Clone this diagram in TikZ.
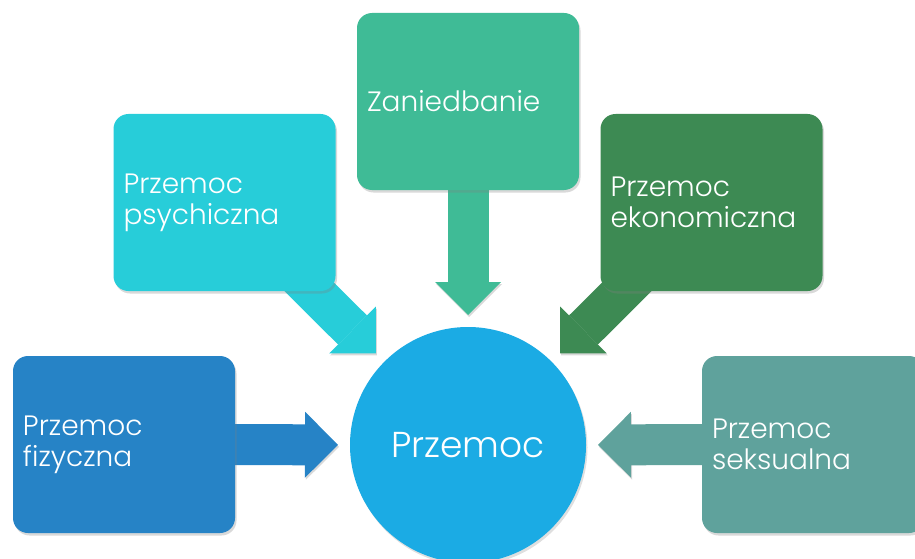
\documentclass[tikz,border=0pt]{standalone}
\usepackage{fontspec}
\setmainfont{Poppins Light}
\usetikzlibrary{arrows.meta,shadows,backgrounds}
\definecolor{fizcol}{HTML}{2683C6}
\definecolor{psycol}{HTML}{27CDD9}
\definecolor{zancol}{HTML}{3FBB96}
\definecolor{ekocol}{HTML}{3D8A53}
\definecolor{sekcol}{HTML}{5FA29C}
\definecolor{przcol}{HTML}{1BABE4}
\begin{document}
\begin{tikzpicture}[x=1pt,y=-1pt,
		box/.style={rectangle,rounded corners=15pt,minimum width=222pt,minimum height=177pt,
			text width=202pt,inner xsep=10pt,inner ysep=0pt,outer sep=0pt,align=left,text=white,
			font=\fontsize{28}{31}\selectfont,
			drop shadow={shadow xshift=1.5pt,shadow yshift=-2.5pt,opacity=0.3}},
		blockarrow/.style={line width=41pt,-{Triangle[length=33pt,width=66pt,line width=0pt]},
			shorten >=12pt,
			preaction={draw=black,opacity=0.15,transform canvas={shift={(1pt,-2pt)}}}}]
			\useasboundingbox (0,0) rectangle (915,559);
			\node[box,fill=fizcol] (fiz) at (124,444.5) {Przemoc\\fizyczna};
			\node[box,fill=psycol] (psy) at (224.5,202.5) {Przemoc\\psychiczna};
			\node[box,fill=zancol] (zan) at (468,101.5) {Zaniedbanie};
			\node[box,fill=ekocol] (eko) at (711.5,202.5) {Przemoc\\ekonomiczna};
			\node[box,fill=sekcol] (sek) at (813,444.5) {Przemoc\\seksualna};
			\node[circle,minimum size=236pt,inner sep=0pt,outer sep=0pt,fill=przcol,text=white,
				font=\fontsize{36}{40}\selectfont,
				drop shadow={shadow xshift=1.5pt,shadow yshift=-2.5pt,opacity=0.25}] (prz) at (468,445) {Przemoc};
			\begin{scope}[on background layer]
				\draw[blockarrow,fizcol] (fiz.center) -- (prz);
				\draw[blockarrow,psycol] (psy.center) -- (prz);
				\draw[blockarrow,zancol] (zan.center) -- (prz);
				\draw[blockarrow,ekocol] (eko.center) -- (prz);
				\draw[blockarrow,sekcol] (sek.center) -- (prz);
			\end{scope}
		\end{tikzpicture}
\end{document}
